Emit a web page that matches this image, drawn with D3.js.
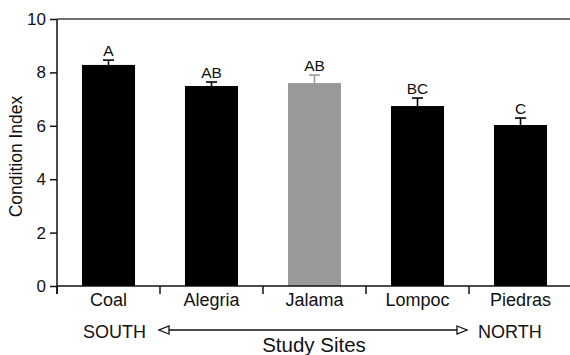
<!DOCTYPE html>
<html>
<head>
<meta charset="utf-8">
<script src="https://cdn.jsdelivr.net/npm/d3@7"></script>
<style>
  html, body { margin: 0; padding: 0; background: #fff; }
  svg text { font-family: "Liberation Sans", Arial, Helvetica, sans-serif; fill: #111; }
  marker { overflow: visible; }
</style>
</head>
<body>
<svg id="chart" width="570" height="355"></svg>
<script>
// Study sites ordered south to north
const sites = ["Coal", "Alegria", "Jalama", "Lompoc", "Piedras"];
// Mean condition index per site
const means = [8.28, 7.49, 7.60, 6.74, 6.03];
// Standard error per site
const errors = [0.18, 0.15, 0.30, 0.30, 0.26];
// Significance group letters
const groups = ["A", "AB", "AB", "BC", "C"];
// Bar fill per site
const fills = ["#000", "#000", "#999", "#000", "#000"];
const yTicks = [0, 2, 4, 6, 8, 10];

const svg = d3.select("#chart");
const x0 = 57, x1 = 572, yTop = 19, yBot = 286;

const x = d3.scaleBand().domain(sites).range([x0, x1]).paddingInner(0.485).paddingOuter(0.2425);
const y = d3.scaleLinear().domain([0, 10]).range([yBot, yTop]);

// bars
svg.selectAll("rect.bar").data(sites).join("rect")
  .attr("class", "bar")
  .attr("x", d => x(d))
  .attr("width", x.bandwidth())
  .attr("y", (d, i) => y(means[i]))
  .attr("height", (d, i) => y(0) - y(means[i]))
  .attr("fill", (d, i) => fills[i]);

// error bars (upper half)
const capW = 11;
const eb = svg.selectAll("g.err").data(sites).join("g").attr("class", "err")
  .attr("stroke", (d, i) => fills[i] === "#000" ? "#000" : "#999")
  .attr("stroke-width", 1.6);
eb.append("line")
  .attr("x1", d => x(d) + x.bandwidth() / 2).attr("x2", d => x(d) + x.bandwidth() / 2)
  .attr("y1", (d, i) => y(means[i])).attr("y2", (d, i) => y(means[i] + errors[i]));
eb.append("line")
  .attr("x1", d => x(d) + x.bandwidth() / 2 - capW / 2).attr("x2", d => x(d) + x.bandwidth() / 2 + capW / 2)
  .attr("y1", (d, i) => y(means[i] + errors[i])).attr("y2", (d, i) => y(means[i] + errors[i]));

// group letters
svg.selectAll("text.grp").data(sites).join("text")
  .attr("class", "grp")
  .attr("x", d => x(d) + x.bandwidth() / 2)
  .attr("y", (d, i) => y(means[i] + errors[i]) - 4)
  .attr("text-anchor", "middle")
  .attr("font-size", 15.5)
  .text((d, i) => groups[i]);

// top frame line at 10
svg.append("line")
  .attr("x1", x0).attr("x2", 570).attr("y1", y(10)).attr("y2", y(10))
  .attr("stroke", "#444").attr("stroke-width", 1.6);

// y axis
const yAxis = svg.append("g").attr("transform", `translate(${x0},0)`)
  .call(d3.axisLeft(y).tickValues(yTicks).tickSize(7).tickPadding(4).tickFormat(d3.format("d")));
yAxis.select(".domain").attr("d", `M0,${yTop}V${yBot + 8}`).attr("stroke", "#111").attr("stroke-width", 1.5);
yAxis.selectAll(".tick line").attr("stroke", "#111").attr("stroke-width", 1.5);
yAxis.selectAll(".tick text").attr("font-size", 17).attr("font-family", "Liberation Sans, Arial, sans-serif").attr("fill", "#111");

// x axis: ticks at category boundaries
const xg = svg.append("g");
xg.append("line").attr("x1", x0).attr("x2", 570).attr("y1", yBot).attr("y2", yBot)
  .attr("stroke", "#111").attr("stroke-width", 1.5);
const step = x.step();
const bounds = d3.range(sites.length + 1).map(i => x0 + i * step);
xg.selectAll("line.bt").data(bounds).join("line").attr("class", "bt")
  .attr("x1", d => d).attr("x2", d => d).attr("y1", yBot).attr("y2", yBot + 8)
  .attr("stroke", "#111").attr("stroke-width", 1.5);
xg.selectAll("text.cat").data(sites).join("text").attr("class", "cat")
  .attr("x", d => x(d) + x.bandwidth() / 2)
  .attr("y", 306)
  .attr("text-anchor", "middle")
  .attr("font-size", 18)
  .text(d => d);

// y axis title
svg.append("text")
  .attr("transform", `translate(22,${(yTop + yBot) / 2 + 4}) rotate(-90)`)
  .attr("text-anchor", "middle")
  .attr("font-size", 17.5)
  .text("Condition Index");

// south-north direction arrow
const ay = 330;
const defs = svg.append("defs");
function head(id, orient) {
  defs.append("marker").attr("id", id)
    .attr("viewBox", "0 0 10 8").attr("refX", 10).attr("refY", 4)
    .attr("markerWidth", 10).attr("markerHeight", 8).attr("markerUnits", "userSpaceOnUse")
    .attr("orient", orient)
    .append("path").attr("d", "M0,0L10,4L0,8Z").attr("fill", "#fff").attr("stroke", "#111").attr("stroke-width", 1.3);
}
head("arrEnd", "auto");
head("arrStart", "auto-start-reverse");
svg.append("line")
  .attr("x1", 159).attr("x2", 467).attr("y1", ay).attr("y2", ay)
  .attr("stroke", "#111").attr("stroke-width", 1.3)
  .attr("marker-start", "url(#arrStart)").attr("marker-end", "url(#arrEnd)");

svg.append("text").attr("x", 83).attr("y", 338).attr("font-size", 18).text("SOUTH");
svg.append("text").attr("x", 478).attr("y", 338).attr("font-size", 18).text("NORTH");
svg.append("text").attr("x", 314).attr("y", 352).attr("text-anchor", "middle").attr("font-size", 20.5).text("Study Sites");
</script>
</body>
</html>
